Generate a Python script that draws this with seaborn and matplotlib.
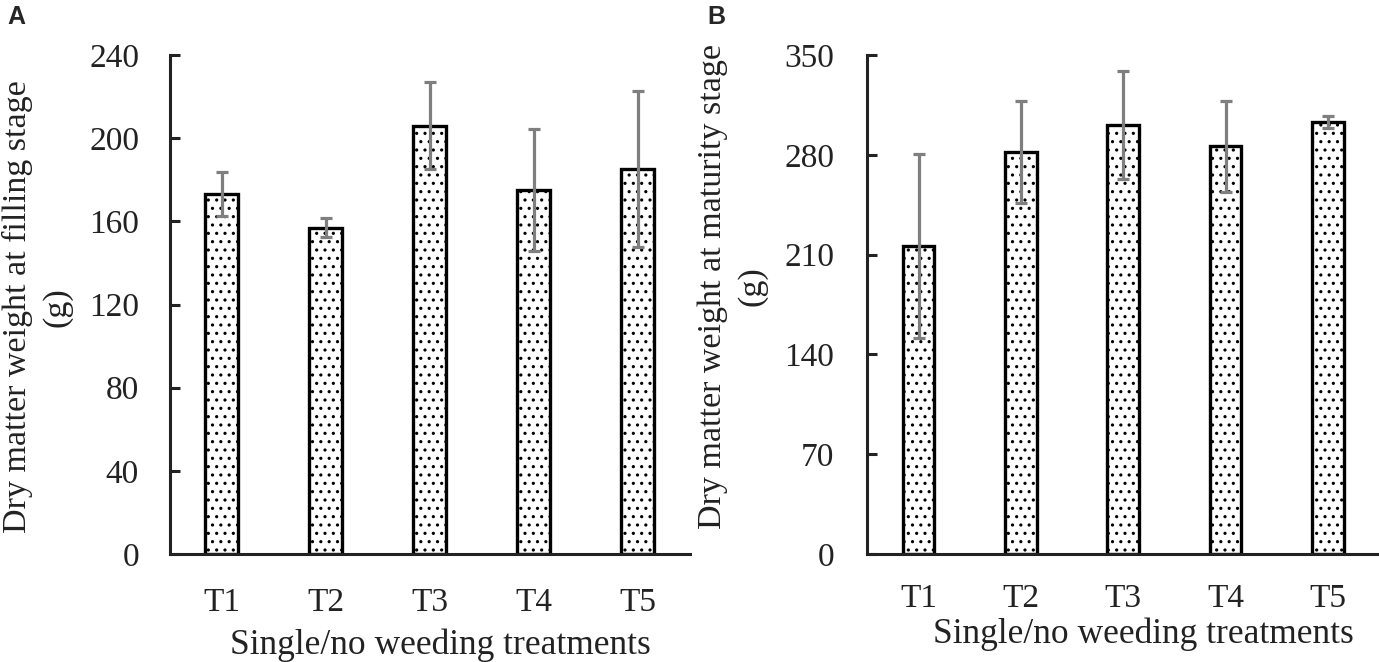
import numpy as np
import pandas as pd
import matplotlib
matplotlib.use("Agg")
import matplotlib.pyplot as plt
import seaborn as sns

treatments = ["T1", "T2", "T3", "T4", "T5"]
# panel A: filling stage
filling_mean = [173, 157, 206, 175, 185]
filling_err = [10.5, 4.5, 21, 29.5, 37.5]
# panel B: maturity stage
maturity_mean = [216, 282, 301, 286, 303]
maturity_err = [64.5, 36, 38, 32, 4]

sns.set_style("ticks")
plt.rcParams["font.family"] = ["Liberation Serif", "DejaVu Serif"]
plt.rcParams["hatch.linewidth"] = 1.1
plt.rcParams["hatch.color"] = "black"

fig = plt.figure(figsize=(13.79, 6.62), dpi=100)
axA = fig.add_axes([0.123, 0.163, 0.377, 0.754])
axB = fig.add_axes([0.629, 0.163, 0.371, 0.754])

panels = [
    (axA, filling_mean, filling_err, 240, 40,
     "Dry matter weight at filling stage\n(g)", 22, 24, (0.521, -0.15), (-0.187, 0.495)),
    (axB, maturity_mean, maturity_err, 350, 70,
     "Dry matter weight at maturity stage\n(g)", 24, 21, (0.54, -0.128), (-0.196, 0.537)),
]

for ax, means, errs, top, step, ylab, ypad, xpad, xlab_pos, ylab_pos in panels:
    df = pd.DataFrame({"treatment": treatments, "value": means})
    sns.barplot(data=df, x="treatment", y="value", ax=ax, color="white",
                edgecolor="black", linewidth=2.4, width=0.31, errorbar=None,
                hatch="..")
    ax.errorbar(np.arange(len(treatments)), means, yerr=errs, fmt="none",
                ecolor="#7f7f7f", elinewidth=2.3, capsize=4.5, capthick=2.3, zorder=5)
    ax.set_ylim(0, top)
    ax.set_yticks(np.arange(0, top + 1, step))
    ax.set_xlim(-0.5, 4.5)
    sns.despine(ax=ax)
    for s in ["left", "bottom"]:
        ax.spines[s].set_linewidth(2.2)
        ax.spines[s].set_color("#222222")
    ax.tick_params(axis="y", direction="in", length=7, width=2.2, pad=ypad,
                   labelsize=24, colors="#222222")
    ax.tick_params(axis="x", length=0, pad=xpad, labelsize=24, colors="#222222")
    ax.set_xlabel("Single/no weeding treatments", fontsize=25.5, color="#222222")
    ax.set_ylabel(ylab, fontsize=24.5, linespacing=1.35, color="#222222")
    ax.xaxis.set_label_coords(*xlab_pos)
    ax.yaxis.set_label_coords(*ylab_pos)

fig.text(0.005, 0.993, "A", fontsize=18, fontweight="bold", family="Liberation Sans", va="top")
fig.text(0.513, 0.993, "B", fontsize=18, fontweight="bold", family="Liberation Sans", va="top")

fig.savefig("out.png", dpi=100)
